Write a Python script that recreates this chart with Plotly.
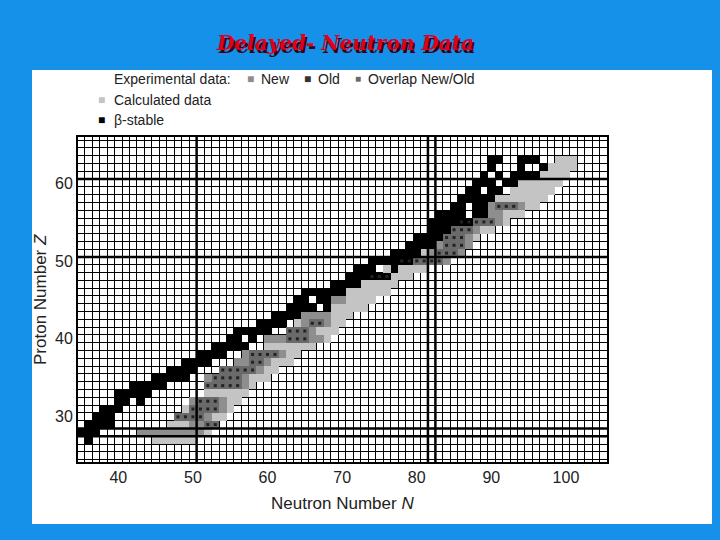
import numpy as np
import plotly.graph_objects as go

# Delayed-neutron emitters on the chart of nuclides
n_min, n_max = 34, 106
z_min, z_max = 24, 66

# calculated data: Z -> (first N, last N)
calc_ranges = {
    27: (45, 50), 28: (44, 52), 29: (47, 53), 30: (49, 54), 31: (49, 55),
    32: (50, 56), 33: (52, 57), 34: (53, 58), 35: (54, 60), 36: (56, 61),
    37: (57, 63), 38: (58, 64), 39: (60, 66), 40: (61, 68), 41: (63, 69),
    42: (64, 70), 43: (66, 71), 44: (68, 73), 45: (69, 74), 46: (71, 76),
    47: (72, 77), 48: (74, 79), 49: (76, 81), 50: (78, 83), 51: (80, 85),
    52: (82, 87), 53: (84, 88), 54: (85, 90), 55: (87, 92), 56: (88, 94),
    57: (90, 96), 58: (91, 97), 59: (93, 98), 60: (94, 99), 61: (96, 100),
    62: (97, 101), 63: (99, 101),
}
# new experimental data
new_ranges = {
    28: (43, 51), 29: (50, 53), 30: (48, 52), 31: (50, 54), 32: (50, 54),
    34: (52, 57), 35: (52, 57), 36: (54, 59), 37: (56, 60), 38: (57, 62),
    40: (60, 67), 41: (63, 66), 42: (65, 68), 43: (65, 68), 45: (68, 70),
    48: (73, 76), 50: (78, 84), 51: (82, 86), 52: (83, 87), 53: (83, 87),
    54: (84, 88), 55: (85, 91), 56: (88, 91), 57: (90, 94),
}
# overlap new/old
overlap_ranges = {
    29: (52, 53), 30: (48, 51), 31: (50, 53), 32: (51, 53), 34: (52, 56),
    35: (53, 56), 36: (54, 58), 37: (58, 59), 38: (58, 61), 40: (63, 65),
    41: (63, 65), 42: (66, 67), 48: (74, 76), 50: (78, 83), 51: (83, 85),
    52: (84, 86), 53: (84, 86), 54: (85, 87), 55: (86, 90), 57: (91, 93),
}
# old experimental data
old_cells = {
    27: [36], 28: [35, 36, 37], 29: [36, 37, 38, 39], 30: [37, 38, 39], 31: [38, 39, 40],
    32: [40, 41, 43], 33: [40, 41, 42, 43, 44], 34: [42, 43, 44, 45, 46],
    35: [45, 46, 47, 48, 49], 36: [47, 48, 49, 50], 37: [49, 50, 51, 52],
    38: [51, 52, 53, 54], 39: [53, 54, 55, 56, 57], 40: [55, 56, 58],
    41: [56, 57, 58, 59, 60], 42: [59, 60, 61, 62], 43: [61, 62, 63, 64],
    44: [63, 64, 65, 66, 68], 45: [64, 65, 67, 68], 46: [65, 66, 67, 68, 69, 70],
    47: [69, 70, 71, 72], 48: [71, 72, 73, 74, 75, 76], 49: [72, 73, 74, 77],
    50: [74, 75, 76, 77, 78, 79], 51: [77, 78, 79, 80], 52: [79, 80, 81, 82],
    53: [80, 81, 82, 83], 54: [82, 83, 84], 55: [82, 83, 84, 85, 86, 87],
    56: [83, 84, 85, 86, 88, 89], 57: [85, 86, 88, 89], 58: [86, 87, 88, 89, 90],
    59: [87, 88, 90, 91], 60: [88, 89, 90, 92, 93], 61: [89, 91, 93, 94, 95, 96],
    62: [90, 94, 97], 63: [90, 91, 94, 95, 96],
}

n_vals = np.arange(n_min, n_max + 1)
z_vals = np.arange(z_min, z_max + 1)
grid = np.full((len(z_vals), len(n_vals)), np.nan)

def put(z, n, v):
    grid[z - z_min, n - n_min] = v

for z, (a, b) in calc_ranges.items():
    for n in range(a, b + 1):
        put(z, n, 1)
for z, (a, b) in new_ranges.items():
    for n in range(a, b + 1):
        put(z, n, 2)
for z, (a, b) in overlap_ranges.items():
    for n in range(a, b + 1):
        put(z, n, 3)
for z, ns in old_cells.items():
    for n in ns:
        put(z, n, 4)

ov_n = [n for z, (a, b) in overlap_ranges.items() for n in range(a, b + 1)]
ov_z = [z for z, (a, b) in overlap_ranges.items() for n in range(a, b + 1)]

cscale = [[0, "#c4c4c4"], [0.25, "#c4c4c4"], [0.25, "#8e8e8e"], [0.5, "#8e8e8e"],
          [0.5, "#6a6a6a"], [0.75, "#6a6a6a"], [0.75, "#000000"], [1, "#000000"]]

fig = go.Figure()
fig.add_trace(go.Heatmap(x=n_vals, y=z_vals, z=grid, zmin=0.5, zmax=4.5,
                         colorscale=cscale, showscale=False, hoverinfo="skip"))
fig.add_trace(go.Scatter(x=ov_n, y=ov_z, mode="markers", hoverinfo="skip",
                         marker=dict(symbol="square", size=3, color="#222222")))

# thicker lines at the magic numbers
for n in [50.5, 81.5, 82.5]:
    fig.add_shape(type="line", x0=n, x1=n, y0=24.2, y1=65.9, line=dict(color="black", width=2.5))
for z in [27.5, 28.5, 50.5, 60.5]:
    fig.add_shape(type="line", x0=34.6, x1=105.5, y0=z, y1=z, line=dict(color="black", width=2.5))

axis_common = dict(showgrid=False, zeroline=False, showline=True, linecolor="black", linewidth=2,
                   mirror=True, ticks="", tickfont=dict(family="Liberation Sans", size=16, color="#222"),
                   minor=dict(tick0=0.5, dtick=1, showgrid=True, gridcolor="black", gridwidth=1))
fig.update_xaxes(range=[34.6, 105.5], tickvals=[40, 50, 60, 70, 80, 90, 100],
                 domain=[78 / 720, 607 / 720], **axis_common)
fig.update_yaxes(range=[24.2, 65.9], tickvals=[30, 40, 50, 60],
                 domain=[1 - 462 / 540, 1 - 137 / 540], **axis_common)

fig.add_shape(type="rect", xref="paper", yref="paper", x0=32 / 720, x1=712 / 720,
              y0=1 - 524 / 540, y1=1 - 70 / 540, fillcolor="white", line=dict(width=0), layer="below")

def note(text, x, y, color="#222", size=14, anchor="left", angle=0, family="Liberation Sans"):
    fig.add_annotation(text=text, x=x / 720, y=1 - y / 540, xref="paper", yref="paper",
                       showarrow=False, xanchor=anchor, yanchor="middle", textangle=angle,
                       font=dict(family=family, size=size, color=color))

note("Experimental data:", 112, 79)
note("■", 245, 79, "#8e8e8e", 12); note("New", 259, 79)
note("■", 302, 79, "#333", 12); note("Old", 316, 79)
note("■", 353, 79, "#6a6a6a", 10); note("Overlap New/Old", 366, 79)
note("■", 96, 100, "#c4c4c4", 12); note("Calculated data", 112, 100)
note("■", 96, 120, "#000", 12); note("β-stable", 112, 120)

note("<b><i>Delayed- Neutron Data</i></b>", 346.5, 45.5, "#3a0010", 20, "center", family="DejaVu Serif")
note("<b><i>Delayed- Neutron Data</i></b>", 345, 43, "#e0001a", 20, "center", family="DejaVu Serif")
note("Neutron Number <i>N</i>", 342, 503, "#222", 17, "center")
note("Proton Number <i>Z</i>", 40, 300, "#222", 17, "center", angle=-90)

fig.update_layout(width=720, height=540, margin=dict(l=0, r=0, t=0, b=0),
                  paper_bgcolor="#1591ea", plot_bgcolor="rgba(0,0,0,0)", showlegend=False)
fig.write_html("out.html", config={"displayModeBar": False},
               post_script="document.body.style.margin='0';document.body.style.padding='0';")
